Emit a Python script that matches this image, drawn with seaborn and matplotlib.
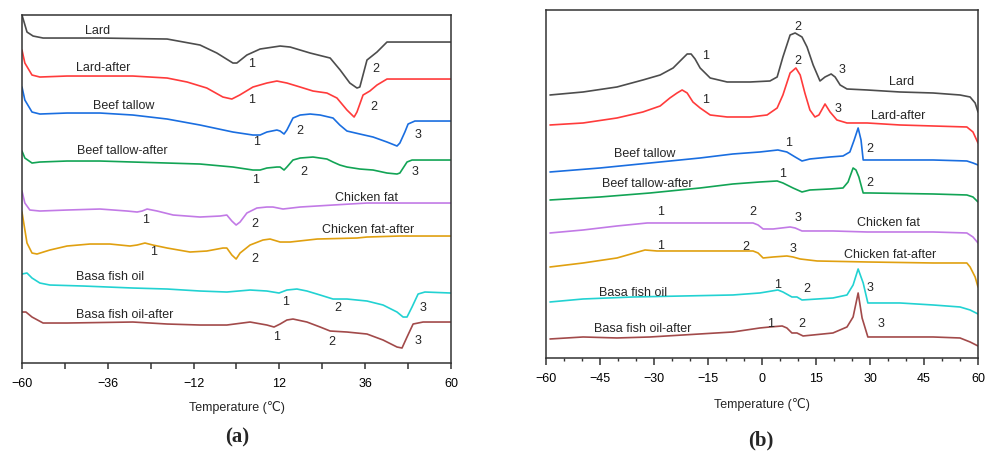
import numpy as np
import pandas as pd
import seaborn as sns
import matplotlib.pyplot as plt
from matplotlib.ticker import MultipleLocator, FixedLocator

sns.set_style('white')
plt.rcParams['font.family'] = ['Liberation Sans', 'DejaVu Sans']

# ---- (a) heating curves: temperature (C) and heat flow (a.u., offset) ----
a_lard_t = [-60, -58.6, -56.9, -54.1, -38.2, -19.4, -10.2, -5.5, -1.0, 0.1, 2.9, 6.6, 12.2, 15.0, 20.6, 26.2,
            29.0, 31.7, 33.7, 34.5, 36.5, 39.3, 42.1, 45.7, 60]
a_lard_y = [348, 331, 327, 325, 325, 324, 318, 310, 300, 300, 308, 314, 317, 316, 310, 305,
            293, 280, 275, 276, 303, 311, 321, 321, 321]

a_lard_after_t = [-60, -59.2, -57.2, -55.0, -47.4, -29.0, -19.4, -13.8, -8.3, -3.8, -1.3, 0.9, 4.6, 8.5, 11.3,
                  14.1, 17.8, 21.4, 25.3, 28.1, 30.9, 32.9, 33.7, 35.4, 37.3, 39.3, 42.1, 45.7, 60]
a_lard_after_y = [313, 300, 288, 286, 287, 287, 285, 281, 275, 266, 264, 268, 276, 280, 282,
                  280, 276, 272, 270, 265, 253, 246, 251, 268, 272, 278, 284, 284, 284]

a_beef_t = [-60, -59.2, -57.2, -55.0, -47.4, -38.2, -29.0, -19.4, -10.2, -1.0, 4.6, 6.6, 8.5, 11.3, 12.2, 13.3,
            14.1, 15.8, 17.8, 20.6, 23.4, 27.0, 28.9, 30.9, 34.5, 38.2, 42.1, 44.9, 45.7, 47.1, 48.0, 49.9, 53.3, 60]
a_beef_y = [276, 263, 251, 249, 250, 250, 248, 244, 238, 231, 228, 228, 231, 233, 232, 229,
            233, 245, 248, 249, 248, 245, 238, 232, 229, 226, 221, 217, 220, 231, 239, 242, 242, 242]

a_beef_after_t = [-60, -59.2, -57.2, -55.0, -47.4, -38.2, -29.0, -19.4, -10.2, -1.0, 4.6, 6.6, 8.5, 11.3, 12.2,
                  13.3, 14.1, 15.8, 17.8, 21.4, 25.3, 27.0, 28.9, 30.9, 34.5, 38.2, 42.1, 44.9, 45.7, 47.7, 49.1,
                  53.3, 60]
a_beef_after_y = [212, 205, 200, 201, 202, 202, 201, 200, 199, 196, 193, 193, 195, 196, 196,
                  193, 196, 203, 205, 206, 204, 201, 198, 196, 194, 193, 190, 189, 190, 201, 203,
                  203, 203]

a_chicken_t = [-60, -59.2, -57.8, -55.0, -47.4, -38.2, -30.6, -27.8, -26.4, -25.0, -22.2, -17.7, -10.2, -4.6,
               -2.7, -1.3, -0.1, 1.0, 2.9, 5.7, 8.5, 10.2, 13.0, 17.8, 27.0, 36.5, 45.7, 60]
a_chicken_y = [172, 160, 153, 152, 153, 154, 152, 151, 152, 154, 152, 148, 146, 147,
               148, 142, 138, 141, 150, 155, 156, 156, 154, 156, 158, 160, 160, 160]

a_chicken_after_t = [-60, -58.6, -57.2, -55.8, -52.2, -47.4, -41.0, -35.4, -29.8, -27.8, -25.6, -23.4, -19.4,
                     -13.0, -8.3, -3.8, -2.7, -1.3, -0.1, 1.0, 3.8, 7.4, 9.4, 12.2, 15.0, 22.6, 33.7, 36.5,
                     45.7, 60]
a_chicken_after_y = [151, 120, 110, 109, 113, 117, 119, 119, 117, 118, 120, 118, 115,
                     111, 112, 115, 115, 108, 104, 110, 118, 123, 124, 121, 121, 124, 125, 126,
                     127, 127]

a_basa_t = [-60, -58.6, -57.2, -55.0, -52.2, -42.9, -29.0, -19.4, -10.2, -2.7, 3.8, 8.5, 10.2, 11.9, 14.1,
            16.9, 19.7, 23.4, 27.0, 30.9, 36.5, 41.0, 44.9, 46.6, 47.7, 49.1, 50.8, 52.7, 60]
a_basa_y = [89, 90, 85, 80, 78, 77, 75, 74, 72, 71, 73, 72, 71, 70, 73,
            74, 72, 68, 64, 64, 62, 58, 51, 46, 46, 56, 69, 71, 70]

a_basa_after_t = [-60, -58.9, -57.2, -54.1, -47.4, -29.0, -19.4, -10.2, -2.7, 3.8, 8.5, 10.5, 12.2, 14.1,
                  15.8, 19.7, 23.4, 26.2, 30.9, 36.5, 41.0, 44.9, 46.3, 47.7, 49.4, 52.2, 60]
a_basa_after_y = [51, 51, 46, 40, 40, 41, 39, 38, 38, 41, 38, 36, 39, 43,
                  44, 41, 36, 32, 31, 29, 23, 16, 15, 26, 39, 41, 41]

# ---- (b) cooling curves ----
b_lard_t = [-58.9, -49.7, -40.3, -33.1, -28.3, -24.7, -22.2, -20.8, -19.7, -18.6, -17.2, -14.4, -9.7, -3.3,
            2.2, 4.2, 5.8, 7.8, 9.2, 11.1, 12.5, 14.2, 16.1, 17.5, 19.2, 20.3, 21.7, 23.6, 29.2, 38.3, 47.5,
            55.0, 57.8, 59.2, 60]
b_lard_y = [263, 266, 271, 278, 283, 290, 299, 304, 304, 299, 290, 280, 276, 276,
            277, 281, 301, 323, 325, 321, 311, 293, 277, 281, 284, 281, 273, 269, 268, 266, 265,
            263, 261, 255, 246]

b_lard_after_t = [-58.9, -49.7, -40.3, -33.1, -28.3, -25.6, -23.6, -22.2, -20.8, -19.2, -17.2, -14.4, -9.7,
                  -3.3, 1.4, 4.2, 5.8, 7.8, 9.4, 10.6, 11.9, 13.3, 14.7, 15.8, 17.5, 18.9, 20.8, 23.6, 29.2,
                  38.3, 47.5, 56.9, 58.6, 60]
b_lard_after_y = [233, 235, 240, 246, 252, 260, 265, 268, 265, 256, 250, 243, 241,
                  241, 243, 250, 263, 285, 290, 283, 265, 248, 241, 243, 254, 246, 238, 235, 235,
                  233, 232, 231, 226, 215]

b_beef_t = [-58.9, -45.0, -31.1, -17.2, -8.1, -0.6, 4.4, 6.9, 9.2, 11.1, 13.3, 18.9, 22.5, 24.4, 25.6, 26.7,
            27.5, 28.1, 30.0, 38.3, 47.5, 56.9, 58.6, 60]
b_beef_y = [186, 190, 195, 200, 204, 206, 208, 206, 201, 197, 199, 201, 202, 206, 218, 230,
            218, 198, 198, 198, 198, 197, 195, 193]

b_beef_after_t = [-58.9, -45.0, -31.1, -17.2, -8.1, -0.6, 4.2, 5.8, 8.6, 11.1, 13.3, 18.9, 22.5, 23.9, 25.3,
                  26.1, 26.9, 28.1, 30.0, 47.5, 56.9, 58.6, 60]
b_beef_after_y = [158, 161, 165, 170, 174, 176, 177, 175, 170, 166, 168, 169, 170, 176, 190,
                  188, 181, 165, 165, 164, 163, 161, 156]

b_chicken_t = [-58.9, -49.7, -40.3, -31.9, -26.4, -17.2, -8.1, -2.5, -1.1, 0.3, 3.1, 7.8, 9.2, 11.1, 19.7,
               29.2, 38.3, 47.5, 56.9, 58.6, 60]
b_chicken_y = [125, 128, 132, 135, 135, 135, 135, 135, 133, 129, 129, 131, 130, 127, 127,
               126, 126, 126, 125, 121, 115]

b_chicken_after_t = [-58.9, -49.7, -40.3, -32.5, -29.2, -17.2, -8.1, -2.5, -1.1, 0.3, 3.1, 6.9, 8.6, 10.6,
                     15.3, 29.2, 47.5, 56.9, 57.8, 59.2, 60]
b_chicken_after_y = [91, 95, 100, 108, 107, 107, 107, 107, 105, 100, 101, 102, 101, 99,
                     97, 96, 95, 95, 91, 81, 71]

b_basa_t = [-58.9, -49.7, -35.8, -21.9, -8.1, -0.6, 4.4, 5.8, 8.3, 9.7, 11.1, 19.7, 23.6, 25.3, 26.7, 28.1,
            29.4, 38.3, 47.5, 55.0, 57.8, 60]
b_basa_y = [56, 59, 61, 62, 63, 65, 68, 66, 61, 61, 58, 60, 63, 73, 89, 75,
            55, 55, 53, 51, 48, 44]

b_basa_after_t = [-58.9, -49.7, -40.3, -31.1, -21.9, -8.1, -0.6, 2.2, 5.6, 6.9, 8.3, 9.7, 11.4, 19.7, 23.6,
                  25.3, 26.7, 27.8, 29.4, 38.3, 47.5, 55.0, 57.8, 60]
b_basa_after_y = [19, 21, 20, 21, 23, 26, 30, 31, 32, 30, 25, 25, 22, 25, 31,
                  41, 65, 40, 21, 21, 21, 20, 16, 12]

samples = ['Lard', 'Lard-after', 'Beef tallow', 'Beef tallow-after',
           'Chicken fat', 'Chicken fat-after', 'Basa fish oil', 'Basa fish oil-after']
colors = ['#4d4d4d', '#ff3b3b', '#1a6ee0', '#12a455', '#c27ae6', '#e0a010', '#22d2d2', '#a24a4a']

# tick positions
a_major_ticks = [-60, -36, -12, 12, 36, 60]
a_minor_ticks = [-48, -24, 0, 24, 48]

curves_a = [(a_lard_t, a_lard_y), (a_lard_after_t, a_lard_after_y), (a_beef_t, a_beef_y),
            (a_beef_after_t, a_beef_after_y), (a_chicken_t, a_chicken_y),
            (a_chicken_after_t, a_chicken_after_y), (a_basa_t, a_basa_y), (a_basa_after_t, a_basa_after_y)]
curves_b = [(b_lard_t, b_lard_y), (b_lard_after_t, b_lard_after_y), (b_beef_t, b_beef_y),
            (b_beef_after_t, b_beef_after_y), (b_chicken_t, b_chicken_y),
            (b_chicken_after_t, b_chicken_after_y), (b_basa_t, b_basa_y), (b_basa_after_t, b_basa_after_y)]


def to_frame(curves):
    rows = []
    for name, (t, y) in zip(samples, curves):
        rows.append(pd.DataFrame({'T': t, 'q': y, 'sample': name}))
    return pd.concat(rows, ignore_index=True)


df_a = to_frame(curves_a)
df_b = to_frame(curves_b)
palette = dict(zip(samples, colors))

fig = plt.figure(figsize=(9.86, 4.54), dpi=100)
ax_a = fig.add_axes([0.0223, 0.2004, 0.4351, 0.7665])
ax_b = fig.add_axes([0.5538, 0.2115, 0.4381, 0.7665])

for ax, df in [(ax_a, df_a), (ax_b, df_b)]:
    sns.lineplot(data=df, x='T', y='q', hue='sample', palette=palette, sort=False,
                 estimator=None, units='sample', linewidth=1.2, legend=False, ax=ax)
    ax.set_xlim(-60, 60)
    ax.set_ylim(0, 348)
    ax.set_yticks([])
    ax.set_ylabel('')
    for s in ax.spines.values():
        s.set_color('#333333')
        s.set_linewidth(1.1)
    ax.tick_params(axis='x', which='both', direction='out', bottom=True, colors='#333333',
                   labelcolor='black', labelsize=9)

# panel a ticks: every 12, labels every 24 starting at -60
ax_a.xaxis.set_major_locator(FixedLocator(a_major_ticks))
ax_a.xaxis.set_minor_locator(FixedLocator(a_minor_ticks))
ax_a.tick_params(axis='x', which='both', length=4.5, width=1.1, pad=6)
ax_a.set_xlabel('Temperature (℃)', fontsize=9, labelpad=8)

# panel b ticks: every 15 labelled, minor every 5
ax_b.xaxis.set_major_locator(MultipleLocator(15))
ax_b.xaxis.set_minor_locator(MultipleLocator(5))
ax_b.tick_params(axis='x', which='major', length=5, width=1.1, pad=6)
ax_b.tick_params(axis='x', which='minor', length=2.5, width=1.0)
ax_b.set_xlabel('Temperature (℃)', fontsize=9, labelpad=9)

fs = 9
# sample names, panel a
for (tx, ty, s) in [(-39.0, 332, 'Lard'), (-37.3, 295, 'Lard-after'), (-31.5, 257, 'Beef tallow'),
                    (-32.0, 212, 'Beef tallow-after'), (36.5, 165, 'Chicken fat'),
                    (36.8, 133, 'Chicken fat-after'), (-35.4, 86, 'Basa fish oil'),
                    (-31.2, 48, 'Basa fish oil-after')]:
    ax_a.text(tx, ty, s, fontsize=fs, ha='center', va='center')

# peak numbers, panel a
for (tx, ty, s) in [(4.1, 299, '1'), (39.0, 294, '2'), (4.1, 263, '1'), (38.5, 256, '2'),
                    (5.7, 221, '1'), (17.8, 232, '2'), (50.8, 228, '3'),
                    (5.2, 183, '1'), (18.9, 191, '2'), (49.9, 191, '3'),
                    (-25.3, 143, '1'), (5.2, 139, '2'), (-23.1, 111, '1'), (5.2, 104, '2'),
                    (13.8, 61, '1'), (28.4, 55, '2'), (52.2, 55, '3'),
                    (11.3, 26, '1'), (26.7, 21, '2'), (50.8, 22, '3')]:
    ax_a.text(tx, ty, s, fontsize=fs, ha='center', va='center')

# sample names, panel b
for (tx, ty, s) in [(38.9, 276, 'Lard'), (37.8, 242, 'Lard-after'), (-32.5, 204, 'Beef tallow'),
                    (-31.9, 174, 'Beef tallow-after'), (35.0, 135, 'Chicken fat'),
                    (35.6, 103, 'Chicken fat-after'), (-35.8, 65, 'Basa fish oil'),
                    (-33.1, 29, 'Basa fish oil-after')]:
    ax_b.text(tx, ty, s, fontsize=fs, ha='center', va='center')

# peak numbers, panel b
for (tx, ty, s) in [(-15.8, 302, '1'), (10.0, 331, '2'), (22.2, 288, '3'),
                    (-15.8, 258, '1'), (10.0, 297, '2'), (21.1, 249, '3'),
                    (7.5, 215, '1'), (30.0, 209, '2'), (5.8, 184, '1'), (30.0, 175, '2'),
                    (-28.1, 146, '1'), (-2.5, 146, '2'), (10.0, 140, '3'),
                    (-28.3, 112, '1'), (-4.4, 111, '2'), (8.6, 109, '3'),
                    (4.2, 73, '1'), (12.5, 69, '2'), (30.0, 70, '3'),
                    (2.5, 34, '1'), (11.1, 34, '2'), (33.1, 34, '3')]:
    ax_b.text(tx, ty, s, fontsize=fs, ha='center', va='center')

# panel letters
fig.text(237 / 986, 1 - 437 / 454, '(a)', fontsize=15, fontweight='bold',
         family=['Liberation Serif', 'DejaVu Serif'], ha='center', va='center')
fig.text(761 / 986, 1 - 440 / 454, '(b)', fontsize=15, fontweight='bold',
         family=['Liberation Serif', 'DejaVu Serif'], ha='center', va='center')

fig.savefig('out.png', dpi=100)
